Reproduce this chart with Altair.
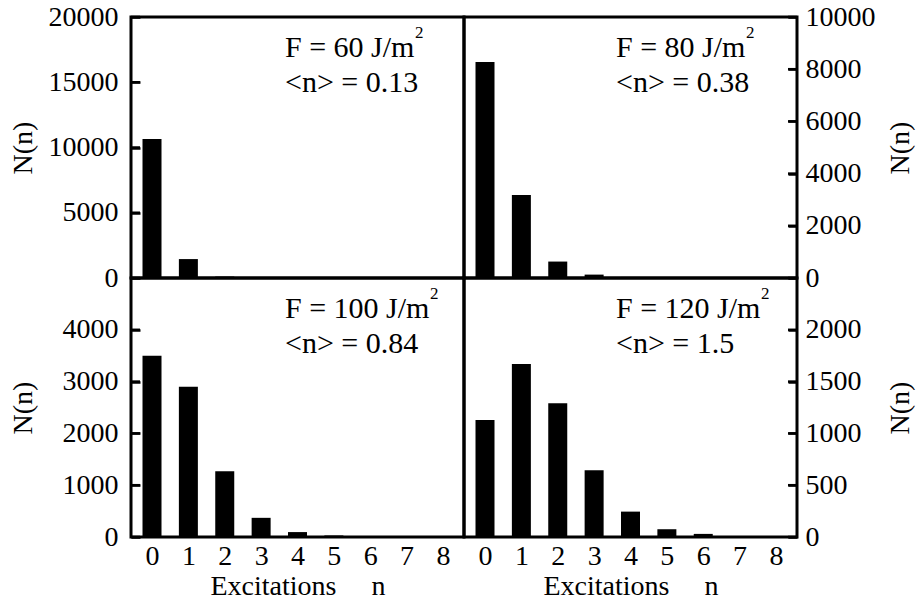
import altair as alt
import pandas as pd

# Excitation number n and the recorded counts N(n) for each fluence
n_values = [0, 1, 2, 3, 4, 5, 6, 7, 8]
counts_f60 = [10650, 1450, 110, 10, 0, 0, 0, 0, 0]
counts_f80 = [8280, 3180, 630, 130, 40, 0, 0, 0, 0]
counts_f100 = [3500, 2900, 1270, 370, 95, 30, 8, 0, 0]
counts_f120 = [1130, 1670, 1290, 645, 245, 75, 30, 8, 0]

fluences = ["60", "80", "100", "120"]
mean_n = ["0.13", "0.38", "0.84", "1.5"]

y_max = [20000, 10000, 5000, 2500]
y_ticks = [
    [0, 5000, 10000, 15000, 20000],
    [0, 2000, 4000, 6000, 8000, 10000],
    [0, 1000, 2000, 3000, 4000],
    [0, 500, 1000, 1500, 2000],
]
x_ticks = [0, 1, 2, 3, 4, 5, 6, 7, 8]

FONT = "Liberation Serif"
W = 333
H_TOP, H_BOT = 261, 259
TICK = 9  # length of the inward tick marks


def panel(counts, fluence, mean, ymax, ticks, side, bottom, height):
    df = pd.DataFrame({"n": n_values, "N": counts})

    if bottom:
        x_axis = alt.Axis(
            values=x_ticks, format="d", ticks=False, domain=False, grid=False,
            labelFont=FONT, labelFontSize=28, labelPadding=5, labelFlush=False,
            labelOverlap=False, labelColor="black",
            title="Excitations" + "\u00a0" * 5 + "n",
            titleFont=FONT, titleFontSize=28, titleFontWeight="normal",
            titleColor="black", titleY=57, titleBaseline="alphabetic",
        )
    else:
        x_axis = None

    title_x = -108 if side == "left" else 103
    # grid lines dashed so that only a short inward stub shows at the axis side
    y_axis = alt.Axis(
        orient=side, values=ticks, format="d", ticks=False, domain=False,
        grid=True, gridDash=[TICK, 2000], gridColor="black", gridOpacity=1,
        gridWidth=2.5,
        labelFont=FONT, labelFontSize=28, labelColor="black",
        labelPadding=13 if side == "left" else 8, labelOverlap=False,
        labelFlush=False,
        title="N(n)", titleFont=FONT, titleFontSize=28,
        titleFontWeight="normal", titleColor="black", titleAngle=270,
        titleX=title_x, titleY=height / 2, titleAlign="center",
        titleBaseline="middle",
    )

    y_scale = alt.Scale(domain=[0, ymax], nice=False)
    x = alt.X("n:Q", scale=alt.Scale(domain=[-0.44, 8.44], nice=False, zero=False),
              axis=x_axis)
    y = alt.Y("N:Q", scale=y_scale, axis=y_axis)

    bars = alt.Chart(df).mark_bar(color="black", size=19).encode(x=x, y=y)

    # inward tick marks drawn as short rules at the axis values
    tick_df = pd.DataFrame({"tick": ticks})
    if side == "left":
        tx, tx2 = 0, TICK
    else:
        tx, tx2 = W - TICK, W
    tick_marks = alt.Chart(tick_df).mark_rule(color="black", strokeWidth=2.5).encode(
        y=alt.Y("tick:Q", scale=y_scale, axis=None),
        x=alt.value(tx), x2=alt.value(tx2),
    )

    x0 = 154 if side == "left" else 152
    main_w = 129 if len(fluence) == 2 else 144
    note_df = pd.DataFrame({
        "line1": ["F = " + fluence + " J/m"],
        "line2": ["<n> = " + mean],
        "sup": ["2"],
    })
    base = alt.Chart(note_df)
    line1 = base.mark_text(font=FONT, fontSize=30, align="left",
                           baseline="alphabetic", color="black").encode(
        text="line1:N", x=alt.value(x0), y=alt.value(40))
    sup = base.mark_text(font=FONT, fontSize=17, align="left",
                         baseline="alphabetic", color="black").encode(
        text="sup:N", x=alt.value(x0 + main_w + 1), y=alt.value(21))
    line2 = base.mark_text(font=FONT, fontSize=30, align="left",
                           baseline="alphabetic", color="black").encode(
        text="line2:N", x=alt.value(x0), y=alt.value(75))

    return alt.layer(bars, tick_marks, line1, sup, line2).resolve_axis(
        y="independent"
    ).properties(
        width=W, height=height,
        view=alt.ViewBackground(stroke="black", strokeWidth=3),
    )


top_left = panel(counts_f60, fluences[0], mean_n[0], y_max[0], y_ticks[0], "left", False, H_TOP)
top_right = panel(counts_f80, fluences[1], mean_n[1], y_max[1], y_ticks[1], "right", False, H_TOP)
bot_left = panel(counts_f100, fluences[2], mean_n[2], y_max[2], y_ticks[2], "left", True, H_BOT)
bot_right = panel(counts_f120, fluences[3], mean_n[3], y_max[3], y_ticks[3], "right", True, H_BOT)

chart = alt.concat(
    top_left, top_right, bot_left, bot_right, columns=2, spacing=0, bounds="flush"
).resolve_scale(y="independent").configure(
    background="white", font=FONT
).configure_view(
    stroke="black", strokeWidth=3
).configure_axis(
    labelFont=FONT, titleFont=FONT
).configure_text(
    font=FONT
).properties(
    autosize=alt.AutoSizeParams(type="none"),
    padding={"left": 131, "top": 17, "right": 785, "bottom": 586},
)

chart.save("out.html", embed_options={"renderer": "svg", "actions": False})
